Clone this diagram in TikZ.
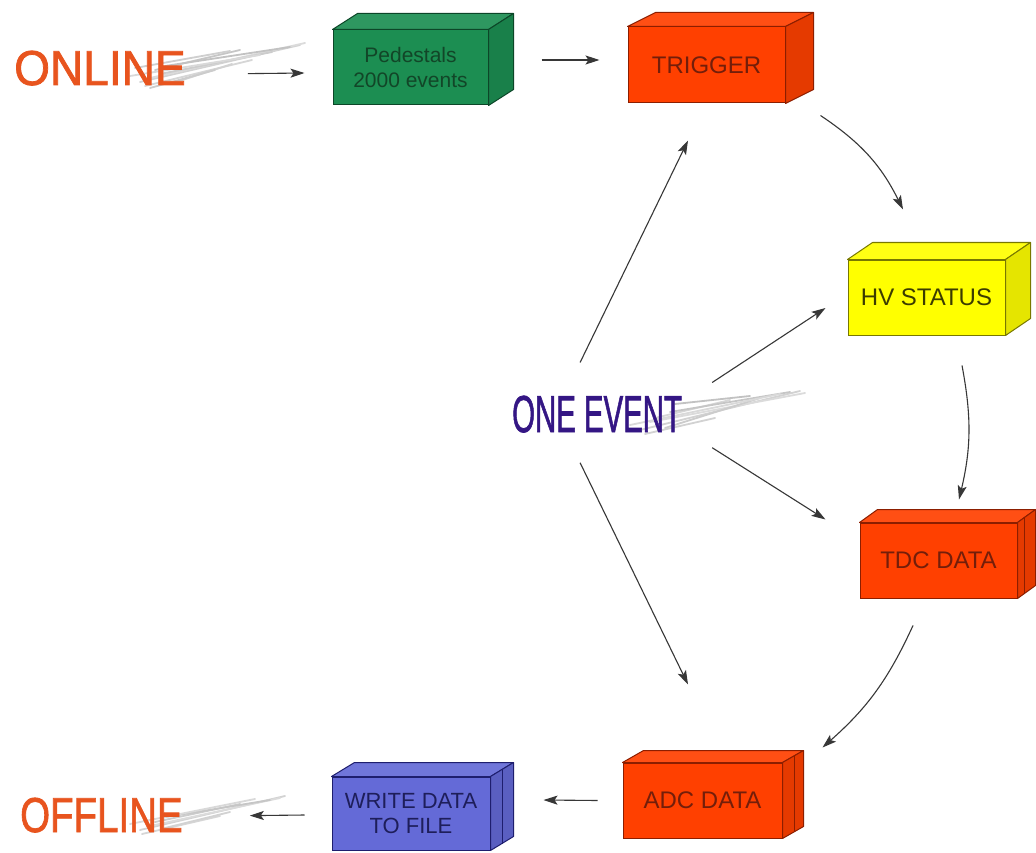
\documentclass[tikz,border=0pt]{standalone}
\usepackage{fontspec}
\setmainfont{Liberation Sans}
\newfontfamily\heavysans[FakeBold=1.6]{Liberation Sans}
\usetikzlibrary{arrows.meta}
\definecolor{onlinec}{RGB}{232,84,30}
\definecolor{eventc}{RGB}{52,22,132}
\definecolor{grn}{RGB}{28,142,82}
\definecolor{grnE}{RGB}{12,70,40}
\definecolor{grnT}{RGB}{18,70,40}
\definecolor{org}{RGB}{255,64,0}
\definecolor{orgE}{RGB}{140,30,0}
\definecolor{orgT}{RGB}{115,30,10}
\definecolor{yel}{RGB}{255,255,0}
\definecolor{yelE}{RGB}{120,120,0}
\definecolor{yelT}{RGB}{60,60,0}
\definecolor{blu}{RGB}{100,106,215}
\definecolor{bluE}{RGB}{30,30,110}
\definecolor{bluT}{RGB}{30,30,90}
\definecolor{arrgray}{RGB}{55,55,55}
\tikzset{
  arr/.style={draw=arrgray, line width=1.1pt, -{Stealth[length=14pt,width=9pt,inset=3pt]}},
  cube/.style={draw, line width=1pt, inner sep=0pt, align=center, minimum height=75pt},
  boxfont/.style={font=\fontsize{24pt}{28pt}\selectfont},
  streak/.style={line width=1.8pt, line cap=round},
  bigword/.style={anchor=base west, inner sep=0pt},
}
\newcommand\cubefaces[4]{%
  \filldraw[fill=#2!92!white, draw=#3, line width=1pt, line join=round]
    (#1.north west) -- ([shift={#4}]#1.north west) -- ([shift={#4}]#1.north east) -- (#1.north east) -- cycle;
  \filldraw[fill=#2!90!black, draw=#3, line width=1pt, line join=round]
    (#1.north east) -- ([shift={#4}]#1.north east) -- ([shift={#4}]#1.south east) -- (#1.south east) -- cycle;
}
\begin{document}
\begin{tikzpicture}[x=1pt, y=-1pt]
\useasboundingbox[fill=white] (0,0) rectangle (1036,853);

% speed streaks
\foreach \a/\b/\c/\d/\g in {140/82/300/45/35, 150/78/305/43/28, 160/74/272/52/40, 145/86/252/60/32, 155/70/240/50/45, 170/84/232/64/35, 165/66/290/47/48, 150/88/215/70/40, 130/76/260/55/30, 135/68/230/51/38}
  \draw[streak, draw=gray!\g] (\a,\b) -- (\c,\d);
\foreach \a/\b/\c/\d/\g in {640/430/800/391/35, 650/422/805/393/28, 665/428/760/398/40, 655/418/730/400/32, 670/412/790/392/45, 645/434/715/418/35, 675/404/750/396/48, 630/425/780/394/30}
  \draw[streak, draw=gray!\g] (\a,\b) -- (\c,\d);
\foreach \a/\b/\c/\d/\g in {140/830/285/796/35, 150/826/280/798/28, 155/822/240/804/40, 142/834/220/816/32, 160/818/270/800/45, 165/828/230/812/35, 130/824/255/799/30}
  \draw[streak, draw=gray!\g] (\a,\b) -- (\c,\d);

% big words
\node[bigword, text=onlinec, font=\heavysans\fontsize{49pt}{55pt}\selectfont] (online) at (14,85) {\scalebox{0.94}[1]{ONLINE}};
\node[bigword, text=eventc, font=\heavysans\fontsize{52pt}{58pt}\selectfont] (one) at (512,432) {\scalebox{0.565}[1]{ONE EVENT}};
\node[bigword, text=onlinec, font=\heavysans\fontsize{49pt}{55pt}\selectfont] (offline) at (20,832) {\scalebox{0.785}[1]{OFFLINE}};

% boxes
\node[cube, fill=grn, draw=grnE, text=grnT, minimum width=155pt, font=\fontsize{21pt}{25pt}\selectfont] (ped) at (410.5,67.5) {Pedestals\\2000 events};
\cubefaces{ped}{grn}{grnE}{(25,-16)}
\node[cube, boxfont, fill=org, draw=orgE, text=orgT, minimum width=157pt, minimum height=76pt] (trig) at (706.5,65) {TRIGGER};
\cubefaces{trig}{org}{orgE}{(28,-14)}
\node[cube, boxfont, fill=yel, draw=yelE, text=yelT, minimum width=157pt] (hv) at (926.5,297.5) {HV STATUS};
\cubefaces{hv}{yel}{yelE}{(25,-17)}
\node[cube, boxfont, fill=org, draw=orgE, text=orgT, minimum width=157pt] (tdc) at (938.5,560.5) {TDC DATA};
\cubefaces{tdc}{org}{orgE}{(18,-13)}
\draw[orgE, line width=0.8pt] ([shift={(7,-5)}]tdc.north east) -- ([shift={(7,-5)}]tdc.south east);
\node[cube, boxfont, fill=org, draw=orgE, text=orgT, minimum width=159pt] (adc) at (702.5,800.5) {ADC DATA};
\cubefaces{adc}{org}{orgE}{(21,-12)}
\draw[orgE, line width=0.8pt] ([shift={(12,-7)}]adc.north east) -- ([shift={(12,-7)}]adc.south east);
\node[cube, fill=blu, draw=bluE, text=bluT, minimum width=158pt, minimum height=73pt, font=\fontsize{22pt}{25pt}\selectfont] (wr) at (411,813.5) {WRITE DATA\\TO FILE};
\cubefaces{wr}{blu}{bluE}{(23,-14)}
\draw[bluE, line width=0.8pt] ([shift={(12,-7)}]wr.north east) -- ([shift={(12,-7)}]wr.south east);

% straight flow arrows
\draw[arr] ([shift={(62,5.5)}]online.east) -- ([shift={(-28,5.5)}]ped.west);
\draw[arr] ([shift={(53,-7.5)}]ped.east) -- ([shift={(-28,-5)}]trig.west);
\draw[arr] ([shift={(-25,0)}]adc.west) -- ([shift={(53,-13.5)}]wr.east);
\draw[arr] ([shift={(-27,1.5)}]wr.west) -- ([shift={(67,0.5)}]offline.east);

% curved flow arrows
\draw[arr] ([shift={(35,12)}]trig.south east) to[bend left=15] ([shift={(-23.5,-50)}]hv.north);
\draw[arr] ([shift={(35.5,30)}]hv.south) to[bend left=12] ([shift={(20.5,-23)}]tdc.north);
\draw[arr] ([shift={(-25.5,27)}]tdc.south) to[bend left=12] ([shift={(40,-15)}]adc.north east);

% arrows from ONE EVENT
\draw[arr] ([shift={(-17,-33)}]one.north) -- ([shift={(-18.5,37)}]trig.south);
\draw[arr] ([shift={(30,-13)}]one.north east) -- ([shift={(-22,10.5)}]hv.west);
\draw[arr] ([shift={(30,15)}]one.south east) -- ([shift={(-34,-3)}]tdc.north west);
\draw[arr] ([shift={(-17,30)}]one.south) -- ([shift={(-14.5,-78)}]adc.north);
\end{tikzpicture}
\end{document}
